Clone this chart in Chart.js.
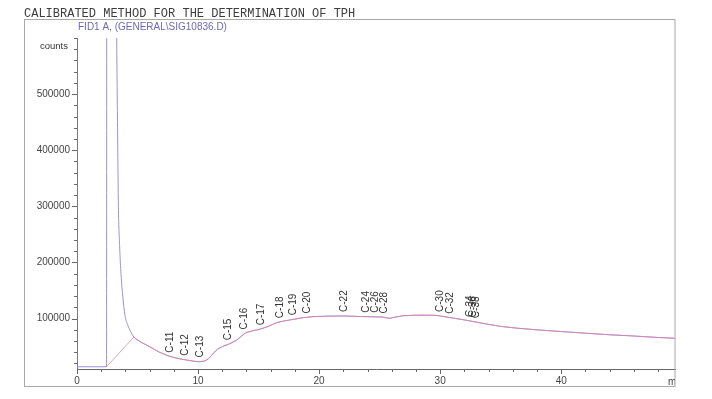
<!DOCTYPE html>
<html>
<head>
<meta charset="utf-8">
<script src="https://cdn.jsdelivr.net/npm/chart.js@4"></script>
<style>
  html, body { margin: 0; padding: 0; background: #ffffff; }
  #wrap { width: 712px; height: 399px; }
</style>
</head>
<body>
<div id="wrap"><canvas id="c" width="712" height="399"></canvas></div>
<script>
// ---- data ----
const chartTitle = "CALIBRATED METHOD FOR THE DETERMINATION OF TPH";
const signalName = "FID1 A, (GENERAL\\SIG10836.D)";
const yUnit = "counts";
const xUnit = "min";

// retention time (min)
const times = [0, 2.44, 2.48, 2.9, 3.28, 3.36, 3.42, 3.52, 3.62, 3.78, 3.97, 4.2, 4.45, 4.7,
  5.2, 6.0, 6.8, 7.6, 8.4, 9.2, 10.0, 10.5, 10.9, 11.3, 11.6, 12.0, 12.6, 13.2, 13.9, 14.5,
  15.1, 15.8, 16.5, 17.2, 17.9, 18.7, 19.5, 21.0, 22.0, 23.4, 24.6, 25.3, 25.8, 26.3, 27.0,
  28.5, 29.5, 30.0, 31.0, 32.0, 33.0, 34.0, 35.0, 36.5, 38.0, 40.0, 42.0, 44.0, 46.0, 48.0, 49.4];
// detector signal (counts)
const counts = [14000, 14000, 2000000, 2000000, 600000, 420000, 300000, 230000, 185000, 140000, 105000, 88000, 76000, 67000,
  59000, 49800, 40000, 33000, 28500, 25500, 23000, 24000, 29000, 39000, 45000, 49800, 55000, 61700, 74000, 78000,
  80800, 86000, 92600, 96000, 98600, 101500, 103300, 104300, 104500, 103500, 103000, 102500, 100400, 102500, 105000,
  106000, 105800, 104500, 101000, 97500, 93500, 89500, 86000, 82500, 79800, 76800, 73800, 71000, 68800, 66200, 64800];
// integration baseline starts at solvent-peak foot and joins the trace here
const baselineStartTime = 2.44;
const baselineJoinTime = 4.7;

// identified peaks
const peakLabels = ["C-11","C-12","C-13","C-15","C-16","C-17","C-18","C-19","C-20","C-22",
  "C-24","C-26","C-28","C-30","C-32","C-34","C-36","C-38"];
const peakTimes = [7.72, 8.96, 10.2, 12.5, 13.85, 15.2, 16.75, 17.9, 19.0, 22.1,
  23.9, 24.65, 25.4, 30.0, 30.85, 32.5, 32.75, 33.0];
const peakCounts = [32000, 26500, 23500, 54000, 73500, 80800, 93500, 98600, 102000, 104500,
  103200, 103000, 101800, 104500, 101300, 95500, 94500, 93500];

const xTickValues = [0, 10, 20, 30, 40];
const yTickValues = [100000, 200000, 300000, 400000, 500000];
const xMin = 0, xMax = 49.4, yMin = 10000, yMax = 600000;

// ---- build datasets ----
const signalData = times.map((t, i) => ({ x: t, y: counts[i] }));
const startIdx = times.indexOf(baselineStartTime);
const joinIdx = times.indexOf(baselineJoinTime);
const baselineData = [{ x: times[startIdx], y: counts[startIdx] }]
  .concat(signalData.slice(joinIdx));

const FONT = "'Liberation Sans', Arial, sans-serif";

const decor = {
  id: 'decor',
  afterDraw(chart) {
    const ctx = chart.ctx;
    const xs = chart.scales.x, ys = chart.scales.y;
    const ca = chart.chartArea;
    ctx.save();
    // outer frame
    ctx.strokeStyle = '#a8a8a8';
    ctx.lineWidth = 1;
    ctx.strokeRect(24.5, 19.5, 650.5, 367);
    // title
    ctx.fillStyle = '#3c3c3c';
    ctx.font = "12px 'Liberation Mono', 'Courier New', monospace";
    ctx.textBaseline = 'alphabetic';
    ctx.textAlign = 'left';
    ctx.fillText(chartTitle, 24, 17);
    // signal name
    ctx.fillStyle = '#6e68b4';
    ctx.font = "10px " + FONT;
    ctx.fillText(signalName, 78, 30);
    // unit label
    ctx.fillStyle = '#333';
    ctx.font = "9.5px " + FONT;
    ctx.textAlign = 'right';
    ctx.fillText(yUnit, 68, 48.5);
    // y tick marks
    ctx.strokeStyle = '#666';
    ctx.beginPath();
    for (let v = 20000; v <= yMax; v += 20000) {
      const py = Math.round(ys.getPixelForValue(v)) + 0.5;
      const major = (v % 100000 === 0) && v < yMax;
      ctx.moveTo(ca.left, py);
      ctx.lineTo(ca.left - (major ? 5 : 3), py);
    }
    // x tick marks
    for (let v = 0; v <= xMax; v += 2) {
      const px = Math.round(xs.getPixelForValue(v)) + 0.5;
      const major = v % 10 === 0;
      ctx.moveTo(px, ca.bottom);
      ctx.lineTo(px, ca.bottom + (major ? 5 : 3));
    }
    ctx.stroke();
    // x unit (cut at frame)
    ctx.save();
    ctx.beginPath();
    ctx.rect(600, 370, 75, 25);
    ctx.clip();
    ctx.fillStyle = '#444';
    ctx.font = "10px " + FONT;
    ctx.textAlign = 'left';
    ctx.fillText(xUnit, 668, 385);
    ctx.restore();
    // peak labels
    ctx.fillStyle = '#333';
    ctx.font = "10px " + FONT;
    ctx.textAlign = 'left';
    ctx.textBaseline = 'middle';
    peakLabels.forEach((lab, i) => {
      const px = xs.getPixelForValue(peakTimes[i]);
      const py = ys.getPixelForValue(peakCounts[i]) - 4;
      ctx.save();
      ctx.translate(px, py);
      ctx.rotate(-Math.PI / 2);
      ctx.fillText(lab, 0, 0);
      ctx.restore();
    });
    ctx.restore();
  }
};

new Chart(document.getElementById('c'), {
  type: 'line',
  data: {
    datasets: [
      {
        label: 'baseline',
        data: baselineData,
        borderColor: 'rgba(224,130,170,0.75)',
        borderWidth: 1,
        pointRadius: 0,
        tension: 0
      },
      {
        label: 'signal',
        data: signalData,
        borderColor: '#9a92d0',
        borderWidth: 1,
        pointRadius: 0,
        cubicInterpolationMode: 'monotone'
      }
    ]
  },
  options: {
    responsive: false,
    animation: false,
    events: [],
    layout: { padding: { left: 0, right: 37, top: 38, bottom: 0 } },
    plugins: { legend: { display: false }, tooltip: { enabled: false }, title: { display: false } },
    scales: {
      x: {
        type: 'linear',
        min: xMin, max: xMax,
        afterFit: s => { s.height = 30; },
        afterBuildTicks: s => { s.ticks = xTickValues.map(v => ({ value: v })); },
        grid: { display: false, drawTicks: false },
        border: { display: true, color: '#666', width: 1 },
        ticks: { padding: 6, maxRotation: 0, autoSkip: false, color: '#444',
                 font: { family: FONT, size: 10 }, callback: v => String(v) }
      },
      y: {
        type: 'linear',
        min: yMin, max: yMax,
        afterFit: s => { s.width = 77; },
        afterBuildTicks: s => { s.ticks = yTickValues.map(v => ({ value: v })); },
        grid: { display: false, drawTicks: false },
        border: { display: true, color: '#777', width: 1 },
        ticks: { padding: 7, autoSkip: false, color: '#444',
                 font: { family: FONT, size: 10 }, callback: v => String(v) }
      }
    }
  },
  plugins: [decor]
});
</script>
</body>
</html>
